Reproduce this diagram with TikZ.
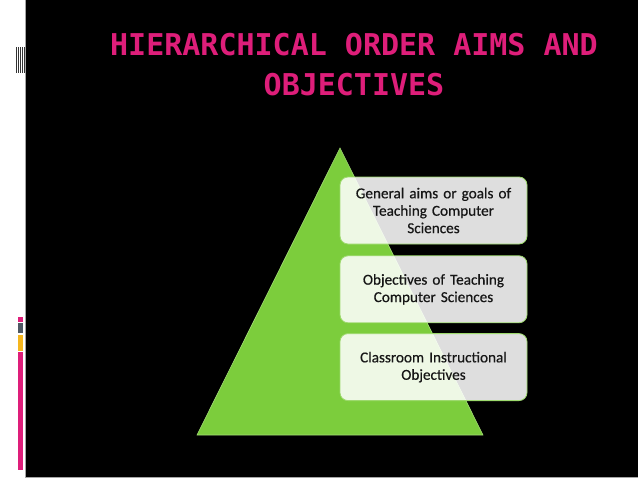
\documentclass[tikz,border=0pt]{standalone}
\usepackage{fontspec}
\setmainfont{Carlito}
\newfontfamily\boxfont{Carlito}[FakeBold=0.5]
\newfontfamily\titlefont{DejaVu Sans Mono}
\usetikzlibrary{positioning}
\definecolor{titlepink}{RGB}{222,30,122}
\definecolor{pyramidgreen}{RGB}{124,205,60}
\definecolor{boxtext}{RGB}{22,22,22}
\definecolor{bargray}{RGB}{78,88,100}
\definecolor{baryellow}{RGB}{245,182,30}
\tikzset{
  levelbox/.style={draw=pyramidgreen!75!white, line width=0.8pt, fill=white, fill opacity=0.87,
    text opacity=1, rounded corners=8pt, minimum width=187pt, minimum height=67pt,
    text width=180pt, align=center, inner sep=0pt, text=boxtext,
    font=\boxfont\fontsize{15.2}{17.4}\selectfont},
  barcode/.style={line width=1pt, black!80}
}
\begin{document}
\begin{tikzpicture}[x=1pt,y=-1pt]
\useasboundingbox (0,0) rectangle (638,479);
% slide
\fill[white] (0,0) rectangle (638,479);
\fill[black] (25,0) rectangle (638,477);
\draw[gray!70, line width=0.8pt] (25,0) -- (25,477) -- (638,477);
% left decoration
\foreach \x in {16,18,20,22,24}
  \draw[barcode] (\x,47) -- (\x,73);
\fill[titlepink] (18,317) rectangle (23,322);
\fill[bargray] (18,323) rectangle (23,333);
\fill[baryellow] (18,335) rectangle (23,351);
\fill[titlepink] (18,352) rectangle (23,470);
% title
\node[anchor=base, align=center, text=titlepink, inner sep=0pt,
  font=\titlefont\bfseries\fontsize{30}{40}\selectfont] (title) at (354,95)
  {HIERARCHICAL ORDER AIMS AND\\OBJECTIVES};
% pyramid
\fill[pyramidgreen] (340,148) -- (483,435) -- (197,435) -- cycle;
\draw[pyramidgreen!70!white, line width=0.6pt] (340,148) -- (483,435) -- (197,435) -- cycle;
% levels
\node[levelbox] (goals) at (433.5,210.5) {General aims or goals of\\Teaching Computer\\Sciences};
\node[levelbox, below=11pt of goals] (objectives) {Objectives of Teaching\\Computer Sciences};
\node[levelbox, below=10pt of objectives] (classroom) {Classroom Instructional\\Objectives};
\end{tikzpicture}
\end{document}
